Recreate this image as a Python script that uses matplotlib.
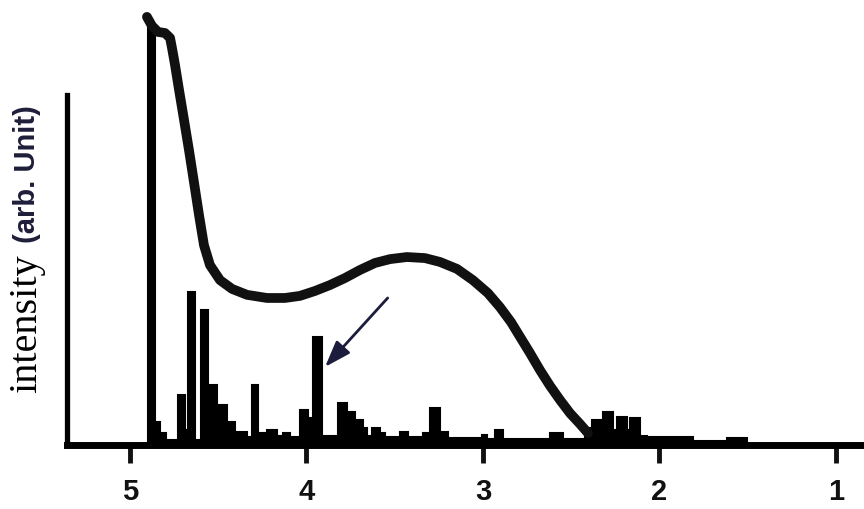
import numpy as np
import matplotlib
matplotlib.use("Agg")
import matplotlib.pyplot as plt

# photon energy axis (eV-like), drawn decreasing to the right
edges = [4.898, 4.858, 4.830, 4.796, 4.728, 4.688, 4.671, 4.632, 4.598, 4.558,
         4.507, 4.450, 4.405, 4.337, 4.309, 4.275, 4.224, 4.167, 4.133, 4.093,
         4.037, 3.992, 3.963, 3.912, 3.822, 3.771, 3.725, 3.680, 3.657, 3.629,
         3.584, 3.555, 3.470, 3.425, 3.340, 3.300, 3.244, 3.198, 3.006, 2.977,
         2.932, 2.887, 2.620, 2.547, 2.422, 2.382, 2.320, 2.263, 2.241, 2.184,
         2.167, 2.110, 2.071, 1.810, 1.618, 1.504]
lines = [120.0, 6.6, 3.4, 1.4, 14.3, 4.3, 43.7, 1.4, 38.6, 17.1,
         11.4, 6.6, 3.7, 2.3, 17.1, 3.4, 4.3, 2.6, 3.4, 2.3,
         10.0, 7.7, 30.9, 2.6, 12.0, 9.4, 7.1, 4.9, 2.6, 4.9,
         3.4, 2.3, 3.7, 2.3, 3.4, 10.6, 3.7, 2.0, 2.9, 1.7,
         4.3, 1.7, 3.4, 1.7, 4.9, 7.1, 9.4, 4.3, 8.0, 4.3,
         7.7, 2.6, 2.3, 1.1, 2.0]

# broad measured spectrum
curve_x = [4.904, 4.875, 4.841, 4.802, 4.773, 4.762, 4.745, 4.722, 4.694, 4.666,
           4.637, 4.609, 4.581, 4.547, 4.490, 4.422, 4.337, 4.224, 4.122, 4.037,
           3.952, 3.867, 3.782, 3.697, 3.612, 3.527, 3.431, 3.329, 3.244, 3.147,
           3.057, 2.972, 2.904, 2.841, 2.790, 2.734, 2.677, 2.620, 2.564, 2.507,
           2.450, 2.405]
curve_y = [122.3, 119.7, 118.0, 117.7, 116.3, 113.4, 108.6, 101.4, 92.9, 84.3,
           74.9, 65.7, 57.1, 51.4, 47.1, 44.6, 42.9, 42.0, 42.0, 42.6,
           44.0, 45.7, 47.7, 50.0, 52.0, 53.1, 53.7, 53.4, 52.3, 50.3,
           47.1, 43.4, 39.4, 35.1, 30.9, 26.3, 21.4, 16.9, 12.9, 9.1,
           6.0, 3.4]

xticks = [5, 4, 3, 2, 1]
arrow_tail = (3.54, 42.0)
arrow_tip = (3.895, 22.3)

fig = plt.figure(figsize=(8.64, 5.09), dpi=100)
ax = fig.add_axes([67/864, 64/509, 797/864, 440/509])

ax.stairs(np.flip(lines), np.flip(edges), fill=True, facecolor="black",
          edgecolor="black", lw=1.5, zorder=2)
ax.plot(curve_x, curve_y, color="#111111", lw=7, solid_capstyle="round",
        solid_joinstyle="round", zorder=3, clip_on=False)

ax.annotate("", xy=arrow_tip, xytext=arrow_tail,
            arrowprops=dict(arrowstyle="-|>,head_length=0.8,head_width=0.28",
                            color="#1c1c3c", lw=2, mutation_scale=20,
                            shrinkA=0, shrinkB=0))

ax.set_xlim(5.357, 0.841)
ax.set_ylim(0, 125.7)

for s in ["top", "right"]:
    ax.spines[s].set_visible(False)
ax.spines["left"].set_bounds(0, 100)
ax.spines["left"].set_linewidth(3.8)
ax.spines["bottom"].set_linewidth(5)
ax.set_yticks([])
ax.set_xticks(xticks)
ax.set_xticklabels([str(t) for t in xticks], fontweight="bold", fontsize=21,
                   family=["Liberation Sans", "DejaVu Sans"])
ax.tick_params(axis="x", direction="out", length=13, width=3.5, pad=11, colors="#111111")
ax.patch.set_alpha(0)

# two-part y label
fig.text(27/864, (509-393)/509, "intensity", rotation=90, rotation_mode="anchor",
         ha="left", va="center", fontsize=29, family="Liberation Serif", color="black")
fig.text(27/864, (509-105)/509, "(arb. Unit)", rotation=90, rotation_mode="anchor",
         ha="right", va="center", fontsize=21, fontweight="bold",
         family=["Liberation Sans", "DejaVu Sans"], color="#1e1e3a")

fig.savefig("out.png", dpi=100)
